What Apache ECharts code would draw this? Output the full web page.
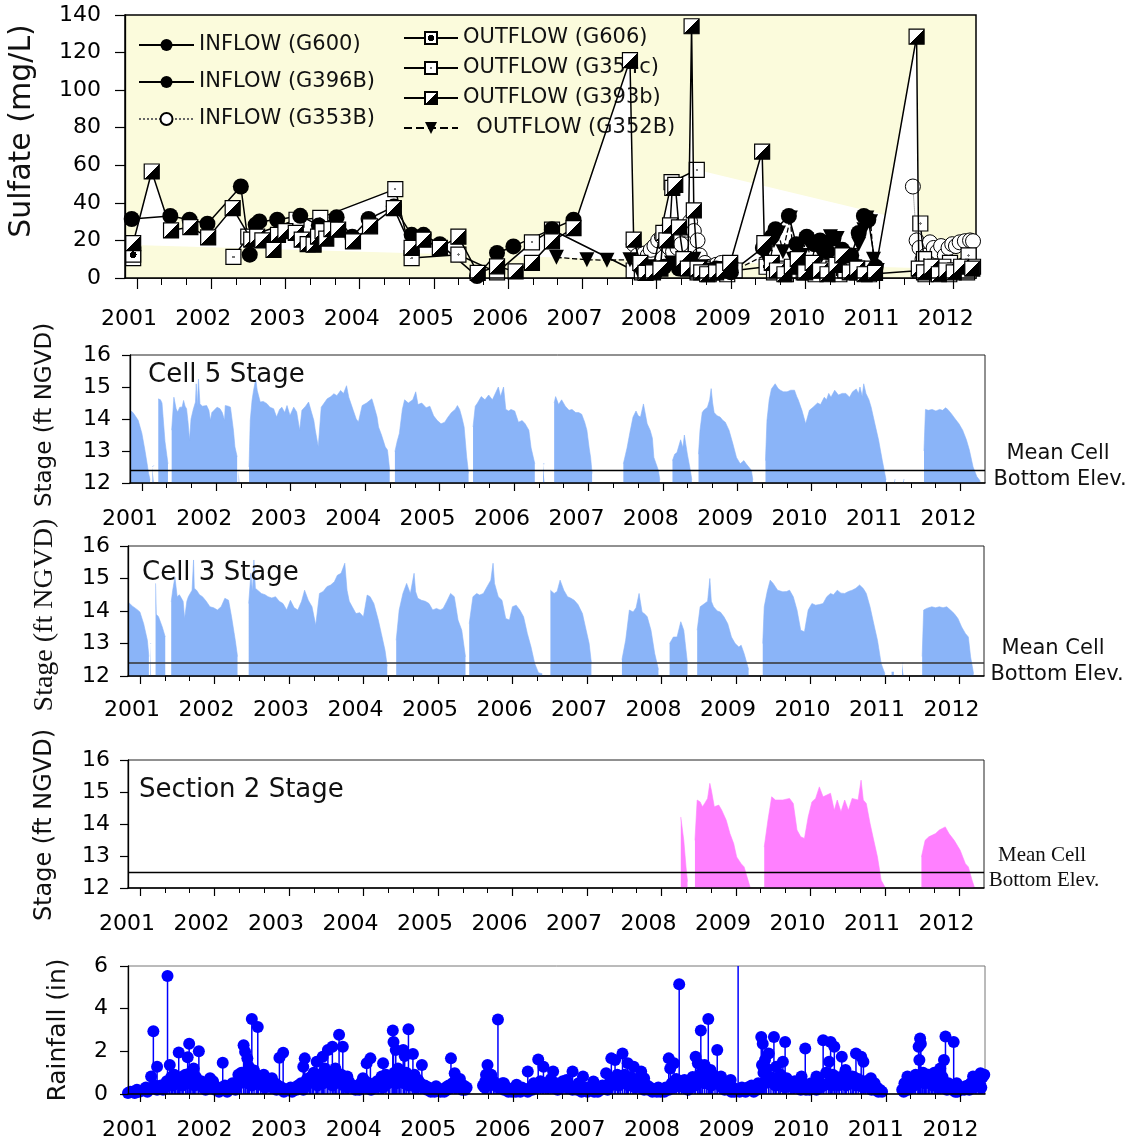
<!DOCTYPE html>
<html><head><meta charset="utf-8">
<script src="https://cdn.jsdelivr.net/npm/echarts@6/dist/echarts.min.js"></script>
<style>html,body{margin:0;padding:0;background:#fff}#c{width:1137px;height:1145px}</style>
</head><body><div id="c"></div>
<script>
// ---------- tick labels ----------
const years = [2001,2002,2003,2004,2005,2006,2007,2008,2009,2010,2011,2012];
const minorTicks = [];
[2000].concat(years).forEach(y => { [1/3, 2/3].forEach(f => { const v = y + f; if (v > 2000.85 && v < 2012.3) minorTicks.push(v); }); });

// ---------- Sulfate (mg/L) [decimal year, value] ----------
const inflowG600 = [[2000.93,31.4],[2001.45,33],[2001.71,31],[2001.95,28.9],[2002.40,48.7],[2002.52,12.4],[2002.60,28.4],[2002.65,30.1],[2002.89,31],[2003.20,33.1],[2003.45,28],[2003.69,32.4],[2003.90,22],[2004.12,31.4],[2004.46,38],[2004.70,23],[2004.86,23],[2005.08,18],[2005.58,1],[2005.85,13.3],[2006.07,16.8],[2006.59,26],[2006.88,31]];
const inflowG396B = [[2007.85,4],[2008.10,6],[2008.30,5],[2008.60,3],[2008.80,5],[2009.00,3],[2009.43,16],[2009.55,22],[2009.60,26],[2009.78,33],[2009.88,18],[2010.02,22],[2010.12,18],[2010.20,20],[2010.30,14],[2010.38,21],[2010.50,15],[2010.62,12],[2010.72,24],[2010.79,33],[2010.85,31],[2010.95,6]];
const inflowG353B = [[2007.69,18],[2007.74,12],[2007.78,10],[2007.83,13],[2007.88,12],[2007.92,15],[2007.97,17],[2008.02,20],[2008.07,22],[2008.12,18],[2008.17,16],[2008.22,14],[2008.28,16],[2008.33,18],[2008.40,25.7],[2008.45,30],[2008.50,25],[2008.55,20],[2008.58,12],[2008.65,8],[2008.72,6],[2008.80,7],[2008.87,8],[2008.95,6],[2009.00,7],[2009.01,null],[2011.45,48.7],[2011.50,20],[2011.54,16],[2011.58,10],[2011.63,12],[2011.68,19],[2011.73,16],[2011.78,14],[2011.83,17],[2011.88,12],[2011.93,16],[2011.98,18],[2012.03,17],[2012.08,19],[2012.15,19.6],[2012.22,20],[2012.26,19.6]];
const outflowG606 = [[2000.95,12.4],[2000.96,null],[2008.55,3],[2008.62,5],[2008.70,2],[2008.78,4],[2008.86,3],[2008.95,2],[2009.05,4],[2009.48,6],[2009.58,3],[2009.66,5],[2009.74,2],[2009.82,4],[2009.90,7],[2009.98,3],[2010.06,5],[2010.14,2],[2010.22,6],[2010.30,3],[2010.38,5],[2010.46,2],[2010.54,4],[2010.62,6],[2010.70,3],[2010.78,5],[2010.86,2],[2011.55,4],[2011.62,2],[2011.70,5],[2011.78,3],[2011.86,6],[2011.94,2],[2012.02,4],[2012.10,5],[2012.18,3],[2012.26,6]];
const outflowG354c = [[2000.95,10.6],[2000.96,null],[2002.30,11.2],[2002.50,22],[2003.15,31],[2003.47,32],[2004.48,47.3],[2004.70,10.6],[2005.33,12.4],[2005.85,3],[2006.32,19],[2006.59,25.7],[2007.69,4],[2007.80,3],[2007.95,5],[2008.20,51],[2008.54,57.6],[2008.55,null],[2011.55,29],[2011.60,10],[2011.75,6],[2011.95,8],[2012.20,12]];
const outflowG393b = [[2000.95,18.6],[2001.20,56.7],[2001.46,25.3],[2001.72,27.1],[2001.96,21.6],[2002.29,37.2],[2002.54,20.4],[2002.62,22],[2002.69,20],[2002.84,15.0],[2002.90,23],[2003.00,25],[2003.14,24],[2003.22,20.4],[2003.30,18],[2003.38,17.7],[2003.44,22],[2003.50,25],[2003.55,21],[2003.62,26],[2003.71,25.7],[2003.91,19.5],[2004.14,27.5],[2004.46,37.2],[2004.70,16],[2004.86,20.4],[2005.08,16],[2005.33,22],[2005.59,2.7],[2005.85,6.2],[2006.10,3.5],[2006.32,8],[2006.59,19.5],[2006.88,26.6],[2007.64,116],[2007.69,20.4],[2007.78,8],[2007.85,2.7],[2007.95,3],[2008.05,5],[2008.09,24],[2008.13,20],[2008.18,28],[2008.21,48],[2008.25,49.6],[2008.30,27],[2008.36,10],[2008.42,5],[2008.47,134],[2008.50,36],[2008.55,5],[2008.60,3],[2008.68,2],[2008.80,3],[2008.90,4],[2008.99,8],[2009.42,67.3],[2009.45,18.6],[2009.55,8],[2009.62,4],[2009.72,2],[2009.82,6],[2009.90,10],[2010.00,3],[2010.10,8],[2010.20,4],[2010.30,2],[2010.42,7],[2010.50,12],[2010.60,3],[2010.70,5],[2010.80,2],[2010.94,2.7],[2011.50,128.5],[2011.53,5],[2011.60,3],[2011.70,6],[2011.80,2],[2011.90,4],[2012.00,3],[2012.10,6],[2012.25,5]];
const outflowG352B = [[2006.65,11],[2007.06,9.7],[2007.33,9.5],[2007.64,9.7],[2007.75,4],[2007.90,6],[2008.05,3],[2008.20,8],[2008.35,5],[2008.50,10],[2008.60,6],[2008.75,4],[2008.90,5],[2009.00,3],[2009.45,12],[2009.52,8],[2009.58,20],[2009.64,24],[2009.70,14],[2009.80,31.9],[2009.84,10],[2009.88,16],[2009.95,12],[2010.02,20.4],[2010.08,8],[2010.15,19],[2010.22,12],[2010.30,17],[2010.34,22],[2010.43,21],[2010.50,8],[2010.60,12],[2010.67,6],[2010.72,18],[2010.79,25.7],[2010.83,32],[2010.88,30],[2010.92,10],[2010.97,4]];
const bandEdge = [[2000.84,17.7],[2012.30,4.4]];

// ---------- Stage (ft NGVD) ----------
const cell5Stage = [[2000.84,14.27],[2000.88,14.2],[2000.91,14.1],[2000.95,13.96],[2000.97,13.9],[2001.0,13.55],[2001.04,13.03],[2001.07,12.6],[2001.09,12.3],[2001.11,12.1],[2001.12,null],
[2001.14,12.5],[2001.16,12.55],[2001.17,null],
[2001.22,14.63],[2001.25,14.6],[2001.27,14.5],[2001.31,13.3],[2001.35,12.6],[2001.36,null],
[2001.40,13.65],[2001.43,14.68],[2001.46,14.32],[2001.48,14.22],[2001.51,14.37],[2001.54,14.37],[2001.56,14.58],[2001.58,14.4],[2001.60,14.32],[2001.62,13.9],[2001.64,13.34],[2001.66,14.0],[2001.69,14.3],[2001.72,14.53],[2001.73,15.1],[2001.745,14.4],[2001.76,15.25],[2001.78,14.48],[2001.81,14.4],[2001.83,14.37],[2001.87,14.42],[2001.90,14.27],[2001.92,13.96],[2001.94,14.2],[2001.96,14.22],[2002.01,14.37],[2002.05,14.32],[2002.08,14.2],[2002.10,14.22],[2002.11,13.96],[2002.12,14.42],[2002.16,14.4],[2002.19,14.37],[2002.21,14.32],[2002.23,13.65],[2002.25,13.13],[2002.28,12.82],[2002.29,null],
[2002.30,12.4],[2002.31,12.4],[2002.32,null],
[2002.44,12.5],[2002.456,13.96],[2002.48,14.58],[2002.50,14.89],[2002.53,15.25],[2002.55,14.89],[2002.59,14.53],[2002.63,14.55],[2002.68,14.48],[2002.72,14.37],[2002.77,14.32],[2002.81,14.06],[2002.85,14.3],[2002.88,14.37],[2002.92,14.2],[2002.95,14.42],[2002.99,14.11],[2003.04,14.37],[2003.08,14.22],[2003.12,13.65],[2003.15,14.27],[2003.20,14.4],[2003.24,14.53],[2003.28,14.2],[2003.31,13.96],[2003.33,13.65],[2003.37,13.13],[2003.41,14.37],[2003.45,14.5],[2003.49,14.63],[2003.54,14.7],[2003.58,14.79],[2003.62,14.73],[2003.67,14.89],[2003.71,14.8],[2003.75,15.04],[2003.78,14.68],[2003.84,14.27],[2003.88,14.0],[2003.91,13.91],[2003.96,14.42],[2004.02,14.5],[2004.09,14.63],[2004.11,14.48],[2004.16,14.06],[2004.18,13.75],[2004.22,13.5],[2004.27,13.13],[2004.30,13.03],[2004.33,12.4],[2004.34,null],
[2004.40,12.98],[2004.43,13.3],[2004.46,13.55],[2004.50,14.3],[2004.53,14.6],[2004.58,14.5],[2004.64,14.6],[2004.68,14.85],[2004.71,14.45],[2004.76,14.5],[2004.82,14.35],[2004.87,14.4],[2004.92,14.1],[2004.97,13.95],[2005.02,13.85],[2005.07,13.9],[2005.11,14.05],[2005.16,14.2],[2005.21,14.3],[2005.24,14.42],[2005.27,14.3],[2005.30,14.05],[2005.33,13.75],[2005.365,12.8],[2005.39,12.3],[2005.40,null],
[2005.45,13.75],[2005.48,14.4],[2005.51,14.5],[2005.56,14.7],[2005.61,14.6],[2005.66,14.75],[2005.71,14.6],[2005.76,14.85],[2005.79,15.0],[2005.82,14.7],[2005.86,15.0],[2005.89,14.3],[2005.93,14.25],[2005.96,14.3],[2006.01,14.25],[2006.06,13.9],[2006.11,13.95],[2006.15,13.85],[2006.20,13.65],[2006.23,13.1],[2006.28,12.6],[2006.29,null],
[2006.39,12.6],[2006.41,12.6],[2006.42,null],
[2006.54,14.5],[2006.56,14.7],[2006.60,14.45],[2006.64,14.6],[2006.69,14.4],[2006.74,14.27],[2006.78,14.3],[2006.83,14.2],[2006.87,14.2],[2006.91,14.15],[2006.95,13.9],[2006.98,13.65],[2007.01,13.1],[2007.03,12.8],[2007.05,12.3],[2007.06,null],
[2007.47,12.6],[2007.50,12.9],[2007.52,13.1],[2007.56,13.6],[2007.60,14.06],[2007.64,14.25],[2007.67,14.1],[2007.70,14.06],[2007.74,14.47],[2007.76,14.5],[2007.79,13.85],[2007.83,13.65],[2007.86,13.4],[2007.88,12.8],[2007.94,12.4],[2007.96,12.1],[2007.97,null],
[2008.13,12.7],[2008.16,12.9],[2008.19,12.95],[2008.24,13.35],[2008.27,13.1],[2008.29,13.5],[2008.33,12.9],[2008.37,12.4],[2008.39,12.1],[2008.40,null],
[2008.48,12.9],[2008.50,13.65],[2008.53,14.2],[2008.55,14.27],[2008.60,14.37],[2008.63,14.6],[2008.65,14.95],[2008.67,14.5],[2008.69,14.2],[2008.73,14.1],[2008.77,14.06],[2008.81,13.95],[2008.84,13.9],[2008.89,13.65],[2008.94,13.24],[2008.99,12.8],[2009.04,12.6],[2009.06,12.65],[2009.09,12.7],[2009.12,12.6],[2009.14,12.6],[2009.19,12.4],[2009.21,12.1],[2009.22,null],
[2009.38,12.7],[2009.40,13.96],[2009.43,14.6],[2009.46,14.94],[2009.51,15.1],[2009.55,14.95],[2009.58,14.9],[2009.62,14.85],[2009.67,14.85],[2009.72,14.9],[2009.77,14.9],[2009.80,14.7],[2009.82,14.6],[2009.87,14.27],[2009.92,13.85],[2009.97,14.27],[2010.02,14.37],[2010.08,14.5],[2010.12,14.45],[2010.17,14.68],[2010.20,14.6],[2010.23,14.8],[2010.26,14.68],[2010.31,14.9],[2010.36,14.75],[2010.41,14.8],[2010.46,14.8],[2010.51,14.68],[2010.55,14.85],[2010.60,14.94],[2010.63,14.8],[2010.65,15.0],[2010.68,14.7],[2010.70,15.1],[2010.73,14.8],[2010.77,14.6],[2010.80,14.37],[2010.85,13.85],[2010.90,13.34],[2010.95,12.7],[2011.0,12.1],[2011.01,null],
[2011.11,12.1],[2011.13,12.1],[2011.14,null],[2011.23,12.1],[2011.25,12.1],[2011.26,null],
[2011.51,13.0],[2011.53,14.3],[2011.57,14.27],[2011.62,14.3],[2011.67,14.25],[2011.72,14.3],[2011.76,14.27],[2011.80,14.35],[2011.83,14.3],[2011.88,14.16],[2011.93,14.0],[2011.98,13.85],[2012.03,13.65],[2012.08,13.35],[2012.12,13.03],[2012.17,12.5],[2012.22,12.2],[2012.27,12.05],[2012.28,null]];

const cell3Stage = [[2000.84,14.28],[2000.90,14.15],[2000.96,14.05],[2001.0,13.97],[2001.05,13.61],[2001.10,13.1],[2001.12,12.6],[2001.13,null],[2001.14,13.0],[2001.15,13.0],[2001.16,null],
[2001.21,14.85],[2001.22,13.9],[2001.25,13.82],[2001.30,13.51],[2001.34,13.2],[2001.35,null],
[2001.42,14.28],[2001.44,14.64],[2001.47,15.05],[2001.50,14.44],[2001.53,14.5],[2001.55,14.44],[2001.58,14.3],[2001.60,13.77],[2001.63,14.3],[2001.65,14.44],[2001.70,14.64],[2001.72,15.57],[2001.73,14.7],[2001.76,14.64],[2001.80,14.5],[2001.84,14.44],[2001.89,14.3],[2001.94,14.13],[2001.99,14.1],[2002.04,14.03],[2002.09,14.13],[2002.14,14.39],[2002.19,14.33],[2002.23,13.82],[2002.28,13.1],[2002.31,12.6],[2002.32,null],
[2002.46,14.23],[2002.49,15.16],[2002.51,14.6],[2002.53,15.57],[2002.55,14.7],[2002.58,14.64],[2002.63,14.54],[2002.68,14.5],[2002.72,14.44],[2002.77,14.4],[2002.82,14.44],[2002.87,14.3],[2002.92,14.23],[2002.97,14.03],[2003.02,14.33],[2003.07,14.1],[2003.12,14.03],[2003.17,14.3],[2003.21,14.64],[2003.26,14.33],[2003.31,14.13],[2003.36,13.56],[2003.41,14.54],[2003.46,14.6],[2003.51,14.75],[2003.56,14.8],[2003.61,14.9],[2003.65,15.1],[2003.70,15.16],[2003.75,15.47],[2003.78,14.64],[2003.81,14.3],[2003.85,14.13],[2003.90,13.92],[2003.95,13.95],[2004.00,13.82],[2004.05,14.49],[2004.09,14.44],[2004.14,14.23],[2004.20,13.72],[2004.24,13.31],[2004.29,12.79],[2004.32,12.3],[2004.33,null],
[2004.44,13.1],[2004.48,14.03],[2004.53,14.54],[2004.58,14.85],[2004.63,14.54],[2004.68,15.16],[2004.70,14.6],[2004.73,14.39],[2004.78,14.33],[2004.83,14.3],[2004.88,14.23],[2004.93,14.03],[2004.98,14.08],[2005.03,14.03],[2005.07,14.08],[2005.12,14.3],[2005.17,14.54],[2005.22,14.44],[2005.27,13.72],[2005.32,13.41],[2005.37,12.59],[2005.38,null],
[2005.42,13.61],[2005.47,14.44],[2005.52,14.54],[2005.56,14.49],[2005.61,14.54],[2005.66,14.75],[2005.71,14.95],[2005.74,15.47],[2005.76,14.85],[2005.81,14.44],[2005.86,14.33],[2005.91,13.77],[2005.96,13.72],[2006.00,14.13],[2006.05,14.18],[2006.10,14.03],[2006.15,13.82],[2006.20,13.31],[2006.25,12.89],[2006.30,12.38],[2006.35,12.1],[2006.40,12.07],[2006.41,null],
[2006.51,14.64],[2006.56,14.54],[2006.60,14.6],[2006.64,14.95],[2006.69,14.64],[2006.74,14.44],[2006.78,14.4],[2006.83,14.33],[2006.88,14.2],[2006.94,13.92],[2006.98,13.51],[2007.03,13.0],[2007.06,12.4],[2007.07,null],
[2007.47,12.5],[2007.52,13.1],[2007.57,14.03],[2007.62,13.97],[2007.66,14.1],[2007.70,14.54],[2007.72,14.6],[2007.74,13.97],[2007.78,13.9],[2007.81,13.82],[2007.86,13.41],[2007.91,12.69],[2007.96,12.2],[2007.97,null],
[2008.11,13.0],[2008.16,13.2],[2008.21,13.2],[2008.26,13.67],[2008.30,13.41],[2008.35,12.38],[2008.36,null],
[2008.48,13.41],[2008.52,14.13],[2008.58,14.23],[2008.62,14.3],[2008.65,15.0],[2008.67,14.3],[2008.70,14.13],[2008.75,14.0],[2008.79,13.97],[2008.84,13.82],[2008.89,13.61],[2008.94,13.2],[2008.99,13.0],[2009.04,12.89],[2009.07,12.95],[2009.11,12.69],[2009.17,12.2],[2009.18,null],
[2009.36,13.0],[2009.38,14.13],[2009.42,14.6],[2009.46,14.95],[2009.50,14.85],[2009.56,14.64],[2009.63,14.59],[2009.68,14.6],[2009.72,14.64],[2009.77,14.44],[2009.82,14.03],[2009.87,13.41],[2009.92,13.36],[2009.97,14.03],[2010.02,14.23],[2010.07,14.18],[2010.12,14.2],[2010.17,14.23],[2010.22,14.44],[2010.27,14.54],[2010.31,14.5],[2010.36,14.64],[2010.41,14.55],[2010.46,14.54],[2010.51,14.6],[2010.56,14.64],[2010.61,14.7],[2010.66,14.8],[2010.71,14.69],[2010.75,14.54],[2010.80,14.13],[2010.85,13.61],[2010.90,13.1],[2010.95,12.38],[2011.00,12.07],[2011.01,null],
[2011.09,12.12],[2011.12,12.12],[2011.13,null],[2011.23,12.4],[2011.25,12.4],[2011.26,null],
[2011.50,12.6],[2011.52,14.03],[2011.56,14.08],[2011.63,14.13],[2011.68,14.1],[2011.73,14.13],[2011.78,14.1],[2011.83,14.13],[2011.88,14.03],[2011.93,13.92],[2011.98,13.77],[2012.03,13.51],[2012.08,13.31],[2012.12,13.2],[2012.15,12.59],[2012.19,12.07],[2012.20,null]];

const section2Stage = [[2008.26,14.22],[2008.28,14.17],[2008.30,13.49],[2008.33,12.66],[2008.35,12.2],[2008.36,null],
[2008.45,13.49],[2008.48,14.75],[2008.52,14.69],[2008.55,14.54],[2008.58,14.64],[2008.62,14.8],[2008.65,15.27],[2008.67,15.06],[2008.71,14.54],[2008.77,14.59],[2008.81,14.43],[2008.87,14.12],[2008.92,13.7],[2008.97,13.39],[2009.01,12.97],[2009.07,12.76],[2009.11,12.66],[2009.15,12.34],[2009.19,12.03],[2009.20,null],
[2009.38,13.28],[2009.43,14.12],[2009.48,14.85],[2009.53,14.75],[2009.63,14.75],[2009.72,14.8],[2009.77,14.64],[2009.82,13.81],[2009.87,13.6],[2009.92,13.55],[2009.97,14.22],[2010.02,14.69],[2010.07,14.8],[2010.12,15.16],[2010.17,14.85],[2010.27,14.96],[2010.32,14.43],[2010.36,14.75],[2010.41,14.38],[2010.46,14.75],[2010.51,14.43],[2010.56,14.8],[2010.64,14.75],[2010.68,15.37],[2010.71,14.75],[2010.75,14.64],[2010.80,14.02],[2010.85,13.49],[2010.90,12.97],[2010.95,12.24],[2011.00,12.03],[2011.01,null],
[2011.49,12.97],[2011.54,13.49],[2011.59,13.6],[2011.68,13.7],[2011.73,13.81],[2011.81,13.91],[2011.86,13.7],[2011.93,13.49],[2012.01,13.18],[2012.08,12.76],[2012.12,12.66],[2012.17,12.24],[2012.20,12.03]];

const cell5Bottom = 12.4, cell3Bottom = 12.4, section2Bottom = 12.5;

// ---------- Rainfall (in) ----------
const rainEvents = [[2001.15,0.82],[2001.18,2.94],[2001.23,1.28],[2001.37,5.53],[2001.40,1.36],[2001.52,1.95],[2001.64,1.72],[2001.66,2.36],[2001.72,1.2],[2001.79,2.0],[2001.94,0.74],[2002.11,1.47],[2002.28,0.5],[2002.39,2.29],[2002.41,1.98],[2002.44,1.67],[2002.46,1.28],[2002.50,3.52],[2002.58,3.14],[2002.77,0.74],[2002.87,1.7],[2002.92,1.93],[2003.19,1.28],[2003.21,1.67],[2003.37,1.51],[2003.45,1.75],[2003.52,2.06],[2003.58,2.21],[2003.62,1.2],[2003.67,2.78],[2003.72,2.21],[2003.78,0.82],[2003.99,0.74],[2004.04,1.44],[2004.09,1.67],[2004.24,0.82],[2004.26,1.44],[2004.39,2.98],[2004.40,2.44],[2004.43,2.06],[2004.48,0.82],[2004.53,2.06],[2004.55,1.78],[2004.60,3.03],[2004.66,1.87],[2004.73,0.66],[2004.78,1.36],[2004.97,0.36],[2005.17,1.67],[2005.22,0.97],[2005.27,0.5],[2005.32,0.2],[2005.64,0.9],[2005.66,1.36],[2005.80,3.49],[2005.88,0.5],[2006.05,0.43],[2006.20,1.05],[2006.34,1.62],[2006.41,1.28],[2006.54,1.05],[2006.72,0.66],[2006.80,1.05],[2006.94,0.82],[2007.08,0.59],[2007.25,0.97],[2007.32,1.67],[2007.37,1.59],[2007.47,1.9],[2007.54,1.44],[2007.62,1.28],[2007.72,1.05],[2007.76,0.74],[2008.09,1.67],[2008.11,1.2],[2008.16,1.44],[2008.23,5.15],[2008.30,0.66],[2008.45,1.75],[2008.48,1.44],[2008.52,2.98],[2008.57,1.36],[2008.62,3.52],[2008.65,1.13],[2008.74,2.06],[2008.79,0.82],[2008.92,0.66],[2009.02,7.5],[2009.33,2.67],[2009.34,1.36],[2009.35,2.36],[2009.38,1.59],[2009.43,1.9],[2009.50,2.67],[2009.53,1.28],[2009.62,1.51],[2009.65,2.44],[2009.67,0.74],[2009.87,0.82],[2009.92,2.13],[2010.07,0.82],[2010.16,2.52],[2010.24,1.51],[2010.26,2.44],[2010.31,2.21],[2010.41,1.75],[2010.46,1.13],[2010.55,0.82],[2010.60,1.9],[2010.67,1.75],[2010.70,1.51],[2010.80,0.74],[2010.85,0.5],[2011.29,0.82],[2011.44,2.21],[2011.46,2.6],[2011.47,2.36],[2011.45,1.59],[2011.49,0.97],[2011.73,1.2],[2011.78,1.59],[2011.80,2.7],[2011.91,2.44],[2011.95,0.5],[2012.07,0.36],[2012.17,0.82],[2012.27,0.97],[2012.32,0.9]];
const rainSmall = [[2000.84,0.05],[2000.90,0.1],[2000.96,0.2],[2001.02,0.15],[2001.08,0.3],[2001.12,0.25],[2001.20,0.4],[2001.26,0.3],[2001.31,0.2],[2001.36,0.6],[2001.42,0.8],[2001.46,0.9],[2001.50,0.7],[2001.55,0.8],[2001.58,0.6],[2001.61,0.9],[2001.68,1.0],[2001.70,0.7],[2001.75,0.8],[2001.82,0.6],[2001.86,0.5],[2001.90,0.3],[2001.98,0.6],[2002.04,0.3],[2002.08,0.2],[2002.14,0.4],[2002.19,0.3],[2002.24,0.5],[2002.32,0.9],[2002.36,1.0],[2002.42,0.7],[2002.47,0.9],[2002.53,1.1],[2002.56,0.8],[2002.62,0.7],[2002.66,0.9],[2002.70,0.6],[2002.75,0.7],[2002.81,0.5],[2002.85,0.4],[2002.90,0.3],[2002.96,0.2],[2003.02,0.3],[2003.07,0.2],[2003.12,0.4],[2003.16,0.5],[2003.24,0.7],[2003.29,0.8],[2003.33,1.0],[2003.40,0.9],[2003.43,0.7],[2003.48,1.2],[2003.55,0.9],[2003.60,1.0],[2003.64,0.8],[2003.70,0.9],[2003.75,0.7],[2003.80,0.6],[2003.86,0.4],[2003.92,0.3],[2003.96,0.5],[2004.02,0.6],[2004.07,0.5],[2004.12,0.4],[2004.18,0.6],[2004.22,0.5],[2004.30,0.9],[2004.35,0.7],[2004.41,1.0],[2004.46,1.2],[2004.50,0.9],[2004.57,1.0],[2004.62,0.8],[2004.68,0.9],[2004.71,0.6],[2004.76,0.5],[2004.82,0.4],[2004.87,0.3],[2004.92,0.2],[2005.00,0.15],[2005.05,0.2],[2005.10,0.3],[2005.14,0.4],[2005.19,0.5],[2005.24,0.6],[2005.29,0.7],[2005.34,0.4],[2005.38,0.3],
[2005.60,0.4],[2005.63,0.6],[2005.68,0.8],[2005.71,0.9],[2005.74,0.6],[2005.78,0.4],[2005.83,0.3],[2005.86,0.5],[2005.92,0.3],[2005.96,0.2],[2006.01,0.15],[2006.08,0.2],[2006.12,0.3],[2006.16,0.2],[2006.24,0.3],[2006.28,0.5],[2006.31,0.4],[2006.37,0.6],[2006.44,0.5],[2006.48,0.3],[2006.51,0.7],[2006.58,0.5],[2006.62,0.4],[2006.67,0.6],[2006.76,0.4],[2006.84,0.3],[2006.88,0.5],[2006.98,0.3],[2007.02,0.2],[2007.05,0.3],[2007.12,0.2],[2007.16,0.3],[2007.20,0.4],[2007.29,0.5],[2007.34,0.7],[2007.40,0.9],[2007.44,0.8],[2007.50,0.9],[2007.52,0.7],[2007.58,0.8],[2007.66,0.7],[2007.69,0.5],[2007.80,0.4],[2007.84,0.3],[2007.90,0.2],[2007.95,0.3],[2008.00,0.2],[2008.05,0.3],[2008.13,0.5],[2008.19,0.7],[2008.26,0.6],[2008.33,0.4],[2008.37,0.5],[2008.41,0.8],[2008.50,0.9],[2008.54,1.1],[2008.60,1.0],[2008.68,0.9],[2008.71,0.8],[2008.77,0.6],[2008.82,0.5],[2008.86,0.4],[2008.95,0.3],[2008.99,0.2],[2009.07,0.3],[2009.10,0.2],[2009.15,0.3],[2009.20,0.4],[2009.25,0.3],[2009.29,0.5],[2009.36,1.0],[2009.40,1.2],[2009.46,0.8],[2009.56,0.7],[2009.59,0.9],[2009.70,0.6],[2009.74,0.5],[2009.78,0.6],[2009.83,0.4],[2009.90,0.5],[2009.96,0.3],[2010.00,0.5],[2010.04,0.4],[2010.10,0.6],[2010.13,0.5],[2010.20,1.0],[2010.29,0.9],[2010.34,0.8],[2010.38,0.7],[2010.44,0.9],[2010.50,0.6],[2010.57,0.8],[2010.63,0.7],[2010.73,0.6],[2010.76,0.5],[2010.83,0.4],[2010.88,0.3],[2010.92,0.2],[2010.95,0.1],
[2011.22,0.2],[2011.25,0.5],[2011.32,0.4],[2011.36,0.7],[2011.40,0.9],[2011.50,1.0],[2011.53,0.8],[2011.57,0.9],[2011.61,0.7],[2011.65,1.0],[2011.69,0.6],[2011.76,0.8],[2011.84,0.5],[2011.87,0.3],[2011.98,0.2],[2012.02,0.3],[2012.10,0.4],[2012.14,0.5],[2012.20,0.6],[2012.24,0.7],[2012.30,0.8]];
const rainLow = [[2000.87,0.1],[2000.93,0.05],[2000.99,0.1],[2001.05,0.2],[2001.10,0.1],[2001.16,0.3],[2001.23,0.2],[2001.28,0.4],[2001.33,0.3],[2001.39,0.5],[2001.44,0.4],[2001.48,0.6],[2001.53,0.5],[2001.57,0.4],[2001.63,0.6],[2001.66,0.5],[2001.73,0.4],[2001.78,0.5],[2001.84,0.3],[2001.88,0.2],[2001.94,0.4],[2002.01,0.2],[2002.06,0.1],[2002.11,0.2],[2002.17,0.1],[2002.22,0.3],[2002.28,0.2],[2002.34,0.5],[2002.39,0.6],[2002.45,0.5],[2002.50,0.4],[2002.59,0.5],[2002.64,0.4],[2002.68,0.3],[2002.73,0.4],[2002.78,0.3],[2002.83,0.2],[2002.88,0.3],[2002.93,0.1],[2002.99,0.2],[2003.04,0.1],[2003.10,0.2],[2003.14,0.3],[2003.19,0.2],[2003.21,0.4],[2003.27,0.5],[2003.31,0.6],[2003.36,0.5],[2003.38,0.4],[2003.46,0.5],[2003.51,0.6],[2003.58,0.4],[2003.62,0.5],[2003.67,0.6],[2003.73,0.4],[2003.78,0.3],[2003.83,0.4],[2003.89,0.2],[2003.94,0.2],[2003.99,0.3],[2004.05,0.3],[2004.10,0.2],[2004.15,0.3],[2004.20,0.4],[2004.26,0.3],[2004.33,0.5],[2004.38,0.6],[2004.44,0.5],[2004.48,0.6],[2004.54,0.5],[2004.60,0.4],[2004.65,0.5],[2004.70,0.3],[2004.74,0.4],[2004.79,0.3],[2004.85,0.2],[2004.90,0.1],[2004.95,0.1],[2005.03,0.1],[2005.08,0.1],[2005.12,0.2],[2005.17,0.3],[2005.22,0.3],[2005.27,0.4],[2005.31,0.3],[2005.36,0.2],
[2005.62,0.3],[2005.66,0.4],[2005.70,0.5],[2005.76,0.4],[2005.81,0.3],[2005.88,0.2],[2005.94,0.1],[2005.99,0.1],[2006.04,0.1],[2006.10,0.1],[2006.14,0.2],[2006.20,0.1],[2006.26,0.2],[2006.34,0.3],[2006.40,0.3],[2006.46,0.4],[2006.54,0.3],[2006.60,0.2],[2006.65,0.3],[2006.70,0.4],[2006.73,0.3],[2006.80,0.2],[2006.86,0.2],[2006.92,0.1],[2006.95,0.2],[2007.00,0.1],[2007.09,0.1],[2007.14,0.1],[2007.18,0.2],[2007.24,0.3],[2007.27,0.2],[2007.31,0.4],[2007.37,0.5],[2007.42,0.4],[2007.47,0.5],[2007.55,0.4],[2007.61,0.5],[2007.64,0.3],[2007.72,0.3],[2007.76,0.2],[2007.82,0.2],[2007.87,0.1],[2007.93,0.1],[2007.98,0.1],[2008.03,0.1],[2008.09,0.2],[2008.16,0.3],[2008.22,0.4],[2008.29,0.3],[2008.35,0.2],[2008.39,0.3],[2008.44,0.4],[2008.48,0.5],[2008.52,0.6],[2008.57,0.5],[2008.64,0.6],[2008.66,0.4],[2008.74,0.5],[2008.80,0.3],[2008.84,0.2],[2008.90,0.2],[2008.93,0.1],[2008.97,0.1],[2009.04,0.1],[2009.12,0.1],[2009.18,0.2],[2009.23,0.1],[2009.27,0.2],[2009.32,0.3],[2009.38,0.5],[2009.43,0.6],[2009.49,0.5],[2009.52,0.4],[2009.58,0.5],[2009.62,0.4],[2009.65,0.3],[2009.72,0.4],[2009.76,0.3],[2009.81,0.3],[2009.86,0.2],[2009.93,0.2],[2009.98,0.2],[2010.02,0.3],[2010.07,0.2],[2010.12,0.3],[2010.17,0.4],[2010.23,0.5],[2010.27,0.4],[2010.32,0.5],[2010.36,0.4],[2010.41,0.5],[2010.47,0.4],[2010.53,0.5],[2010.60,0.4],[2010.66,0.4],[2010.70,0.3],[2010.78,0.3],[2010.81,0.2],[2010.86,0.2],[2010.90,0.1],
[2011.24,0.1],[2011.28,0.3],[2011.30,0.2],[2011.34,0.3],[2011.38,0.4],[2011.43,0.5],[2011.47,0.6],[2011.52,0.5],[2011.55,0.6],[2011.59,0.5],[2011.63,0.4],[2011.67,0.5],[2011.71,0.3],[2011.74,0.4],[2011.79,0.3],[2011.82,0.2],[2011.89,0.2],[2011.93,0.1],[2011.96,0.1],[2012.00,0.2],[2012.05,0.2],[2012.08,0.3],[2012.12,0.2],[2012.16,0.3],[2012.18,0.4],[2012.22,0.4],[2012.26,0.5],[2012.28,0.3]];

// ---------- styling ----------
const FONT = 'DejaVu Sans';
const YELLOW = '#fbfbdc';
const BLUE = '#8ab4f8';
const PINK = '#ff80ff';
const RAIN = '#0000ff';
const XMIN = 2000.84, XMAX = 2012.33;

const grids = [
  {left:125, top:15, width:851, height:263, show:true, backgroundColor:YELLOW, borderColor:'#000', borderWidth:1.5},
  {left:130, top:355, width:855, height:128, show:true, borderColor:'#222', borderWidth:1},
  {left:128, top:546, width:856, height:130, show:true, borderColor:'#222', borderWidth:1},
  {left:128, top:760, width:856, height:128, show:true, borderColor:'#222', borderWidth:1},
  {left:128, top:966, width:857, height:128, show:true, borderColor:'#777', borderWidth:1}
].map(g => Object.assign(g, {containLabel:false, outerBoundsMode:'none'}));

function xAxesFor(g, max, margin, shift, majLen, minLen) {
  return [
    {type:'value', gridIndex:g, position:'bottom', min:XMIN, max:max, z:10,
     axisLine:{show:true, onZero:false, lineStyle:{color:'#000', width:1.5}},
     axisTick:{show:true, inside:false, length:majLen, customValues:years, lineStyle:{color:'#000', width:1.2}},
     axisLabel:{show:true, customValues:years, margin:margin, fontSize:22, fontFamily:FONT, color:'#000',
       formatter:v => String(Math.round(v)), padding:[0, shift*2, 0, 0]},
     splitLine:{show:false}},
    {type:'value', gridIndex:g, position:'bottom', min:XMIN, max:max, z:10,
     axisLine:{show:false, onZero:false},
     axisTick:{show:true, inside:false, length:minLen, customValues:minorTicks, lineStyle:{color:'#000', width:1}},
     axisLabel:{show:false}, splitLine:{show:false}}
  ];
}
function yAxisFor(g, min, max, interval, margin, tickLen) {
  return {type:'value', gridIndex:g, min, max, interval, z:10,
    axisLine:{show:true, onZero:false, lineStyle:{color:'#000', width:1.3}},
    axisTick:{show:true, inside:false, length:tickLen, lineStyle:{color:'#000', width:1.2}},
    axisLabel:{margin:margin, fontSize:22, fontFamily:FONT, color:'#000'},
    splitLine:{show:false}};
}

const xAxis = [].concat(
  xAxesFor(0, 2012.30, 30, 8, 11, 7),
  xAxesFor(1, XMAX, 25, 12, 8, 5),
  xAxesFor(2, XMAX, 23, 8, 8, 5),
  xAxesFor(3, XMAX, 25, 13, 8, 5),
  xAxesFor(4, XMAX, 25, 10, 8, 5)
);
const yAxis = [
  yAxisFor(0, 0, 140, 20, 24, 10),
  yAxisFor(1, 12, 16, 1, 19, 8),
  yAxisFor(2, 12, 16, 1, 18, 8),
  yAxisFor(3, 12, 16, 1, 18, 8),
  yAxisFor(4, 0, 6, 2, 20, 8)
];

const halfSquare = {type:'linear', x:0, y:0, x2:1, y2:1, colorStops:[{offset:0, color:'#fff'},{offset:0.5, color:'#fff'},{offset:0.5, color:'#000'},{offset:1, color:'#000'}]};
const dotSquare = {type:'radial', x:0.5, y:0.5, r:0.5, colorStops:[{offset:0, color:'#000'},{offset:0.42, color:'#000'},{offset:0.42, color:'#fff'},{offset:1, color:'#fff'}]};
const tinyDotSquare = {type:'radial', x:0.5, y:0.5, r:0.5, colorStops:[{offset:0, color:'#777'},{offset:0.15, color:'#777'},{offset:0.15, color:'#fff'},{offset:1, color:'#fff'}]};

function sulfSeries(name, data, opt) {
  return Object.assign({
    name, type:'line', data, xAxisIndex:0, yAxisIndex:0, connectNulls:false,
    showSymbol:true, showAllSymbol:true, symbolSize:15, z:4, silent:true,
    lineStyle:{color:'#000', width:1.5}
  }, opt);
}

const rainAll = rainLow.concat(rainSmall, rainEvents);

const series = [
  {type:'line', data:outflowG354c, xAxisIndex:0, yAxisIndex:0, connectNulls:true, symbol:'none', silent:true, z:1,
   lineStyle:{width:0, opacity:0}, areaStyle:{color:'#fff', opacity:1, origin:'start'}},
  {type:'line', data:outflowG393b, xAxisIndex:0, yAxisIndex:0, symbol:'none', silent:true, z:1,
   lineStyle:{width:0, opacity:0}, areaStyle:{color:'#fff', opacity:1, origin:'start'}},
  {type:'line', data:bandEdge, xAxisIndex:0, yAxisIndex:0, symbol:'none', silent:true, z:2,
   lineStyle:{width:0, opacity:0}, areaStyle:{color:YELLOW, opacity:1, origin:'start'}},
  sulfSeries('INFLOW (G353B)', inflowG353B, {symbol:'circle', z:3, itemStyle:{color:'#fff', borderColor:'#000', borderWidth:1},
    lineStyle:{color:'#666', width:1, type:'dotted'}}),
  sulfSeries('OUTFLOW (G354c)', outflowG354c, {symbol:'rect', itemStyle:{color:tinyDotSquare, borderColor:'#000', borderWidth:1.2}}),
  sulfSeries('OUTFLOW (G606)', outflowG606, {symbol:'rect', itemStyle:{color:dotSquare, borderColor:'#000', borderWidth:1.2}}),
  sulfSeries('INFLOW (G600)', inflowG600, {symbol:'circle', symbolSize:16, itemStyle:{color:'#000'}}),
  sulfSeries('INFLOW (G396B)', inflowG396B, {symbol:'circle', symbolSize:16, itemStyle:{color:'#000'}}),
  sulfSeries('OUTFLOW (G352B)', outflowG352B, {symbol:'triangle', symbolRotate:180, symbolSize:15, itemStyle:{color:'#000'},
    lineStyle:{color:'#000', width:1.3, type:'dashed'}}),
  sulfSeries('OUTFLOW (G393b)', outflowG393b, {symbol:'rect', z:5, itemStyle:{color:halfSquare, borderColor:'#000', borderWidth:1.2}}),

  {type:'line', data:cell5Stage, xAxisIndex:2, yAxisIndex:1, symbol:'none', connectNulls:false, silent:true, z:2,
   lineStyle:{color:BLUE, width:0.6}, areaStyle:{color:BLUE, opacity:1, origin:'start'},
   markLine:{silent:true, symbol:['none','none'], label:{show:false}, lineStyle:{color:'#000', width:1.3, type:'solid'}, data:[{yAxis:cell5Bottom}]}},
  {type:'line', data:cell3Stage, xAxisIndex:4, yAxisIndex:2, symbol:'none', connectNulls:false, silent:true, z:2,
   lineStyle:{color:BLUE, width:0.6}, areaStyle:{color:BLUE, opacity:1, origin:'start'},
   markLine:{silent:true, symbol:['none','none'], label:{show:false}, lineStyle:{color:'#333', width:1.5, type:'solid'}, data:[{yAxis:cell3Bottom}]}},
  {type:'line', data:section2Stage, xAxisIndex:6, yAxisIndex:3, symbol:'none', connectNulls:false, silent:true, z:2,
   lineStyle:{color:PINK, width:0.6}, areaStyle:{color:PINK, opacity:1, origin:'start'},
   markLine:{silent:true, symbol:['none','none'], label:{show:false}, lineStyle:{color:'#000', width:1.3, type:'solid'}, data:[{yAxis:section2Bottom}]}},

  {type:'bar', data:rainAll, xAxisIndex:8, yAxisIndex:4, barWidth:1.5, silent:true, z:2,
   itemStyle:{color:RAIN}},
  {type:'scatter', data:rainAll, xAxisIndex:8, yAxisIndex:4, symbolSize:12, silent:true, z:3,
   itemStyle:{color:RAIN, opacity:1}}
];

const legendText = {fontSize:21, fontFamily:FONT, color:'#111', lineHeight:24};
const legend = [
  {orient:'vertical', left:133, top:28, itemWidth:55, itemHeight:15, itemGap:13, selectedMode:false,
   textStyle:legendText, data:['INFLOW (G600)','INFLOW (G396B)','INFLOW (G353B)']},
  {orient:'vertical', left:398, top:21, itemWidth:54, itemHeight:15, itemGap:6, selectedMode:false,
   textStyle:legendText, data:['OUTFLOW (G606)','OUTFLOW (G354c)','OUTFLOW (G393b)','OUTFLOW (G352B)'],
   formatter:n => n === 'OUTFLOW (G352B)' ? '  ' + n : n}
];

function vText(text, x, y, font) {
  return {type:'text', x, y, rotation:Math.PI/2, z:100, silent:true,
    style:{text, font, fill:'#111', textAlign:'center', textVerticalAlign:'middle'}};
}
function hText(text, x, y, font, align) {
  return {type:'text', x, y, z:100, silent:true,
    style:{text, font, fill:'#111', textAlign:align || 'center', textVerticalAlign:'middle'}};
}
const sans = s => s + 'px "DejaVu Sans"';
const serif = s => s + 'px "Liberation Serif"';
const graphic = [
  vText('Sulfate (mg/L)', 22, 131, sans(30)),
  vText('Stage (ft NGVD)', 45, 415, sans(23)),
  vText('Stage (ft NGVD)', 45, 615, serif(28)),
  vText('Stage (ft NGVD)', 45, 825, sans(24)),
  vText('Rainfall (in)', 58, 1030, sans(25)),
  hText('Cell 5 Stage', 148, 375, sans(26), 'left'),
  hText('Cell 3 Stage', 142, 573, sans(26), 'left'),
  hText('Section 2 Stage', 139, 790, sans(26), 'left'),
  hText('Mean Cell', 1058, 454, sans(21)),
  hText('Bottom Elev.', 1060, 480, sans(21)),
  hText('Mean Cell', 1053, 649, sans(21)),
  hText('Bottom Elev.', 1057, 675, sans(21)),
  hText('Mean Cell', 1042, 855, serif(21)),
  hText('Bottom Elev.', 1044, 880, serif(21))
];

const chart = echarts.init(document.getElementById('c'), null, {renderer:'canvas'});
chart.setOption({
  animation:false,
  backgroundColor:'#fff',
  textStyle:{fontFamily:FONT},
  grid:grids, xAxis, yAxis, series, legend, graphic
});
</script></body></html>
